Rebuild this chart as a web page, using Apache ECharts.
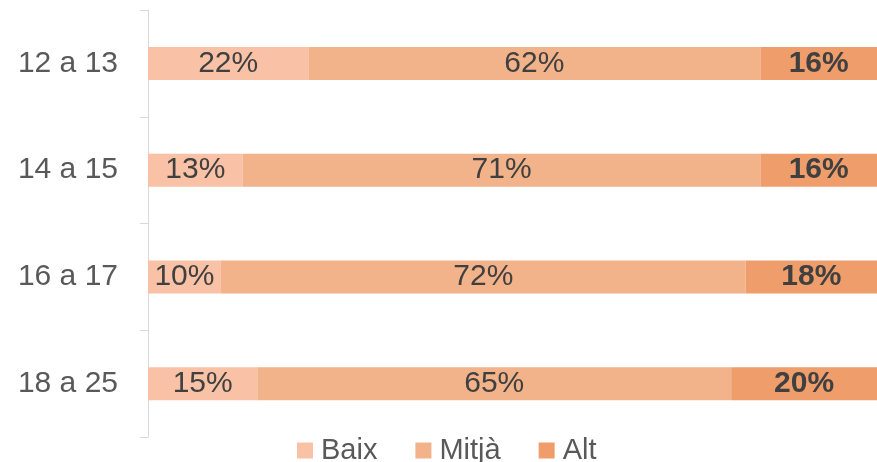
<!DOCTYPE html>
<html>
<head>
<meta charset="utf-8">
<script src="https://cdn.jsdelivr.net/npm/echarts@6/dist/echarts.min.js"></script>
<style>
  html, body { margin: 0; padding: 0; background: #fff; }
  #chart { width: 877px; height: 462px; }
</style>
</head>
<body>
<div id="chart"></div>
<script>
// Age groups and share of each level (%)
const categories = ['12 a 13', '14 a 15', '16 a 17', '18 a 25'];
const seriesNames = ['Baix', 'Mitjà', 'Alt'];
const baix = [22, 13, 10, 15];
const mitja = [62, 71, 72, 65];
const alt = [16, 16, 18, 20];

const colors = ['#F9C2A6', '#F2B28A', '#EE9D6B'];
const FONT = '"Liberation Sans", Arial, sans-serif';

function barSeries(name, values, color, bold) {
  return {
    name: name,
    type: 'bar',
    stack: 'total',
    barWidth: 33,
    data: values,
    itemStyle: { color: color },
    label: {
      show: true,
      position: 'inside',
      formatter: '{c}%',
      fontFamily: FONT,
      fontSize: 30,
      fontWeight: bold ? 'bold' : 'normal',
      color: '#404040'
    },
    emphasis: { disabled: true }
  };
}

const chart = echarts.init(document.getElementById('chart'));
chart.setOption({
  animation: false,
  // plot area runs a few pixels past the right edge of the canvas
  grid: { left: 148, width: 732, top: 10, bottom: 25, containLabel: false },
  legend: {
    data: seriesNames,
    bottom: -8,
    left: 292,
    itemWidth: 16,
    itemHeight: 16,
    itemGap: 38,
    icon: 'rect',
    textStyle: { fontFamily: FONT, fontSize: 29, color: '#595959', padding: [0, 0, 0, 3] }
  },
  xAxis: {
    type: 'value',
    min: 0,
    max: 100,
    show: false
  },
  yAxis: {
    type: 'category',
    data: categories,
    inverse: true,
    axisLine: { show: true, lineStyle: { color: '#D9D9D9', width: 1 } },
    axisTick: { show: true, length: 8, lineStyle: { color: '#D9D9D9' } },
    axisLabel: { fontFamily: FONT, fontSize: 30, color: '#595959', margin: 30 },
    splitLine: { show: false }
  },
  series: [
    barSeries(seriesNames[0], baix, colors[0], false),
    barSeries(seriesNames[1], mitja, colors[1], false),
    barSeries(seriesNames[2], alt, colors[2], true)
  ]
});
</script>
</body>
</html>
